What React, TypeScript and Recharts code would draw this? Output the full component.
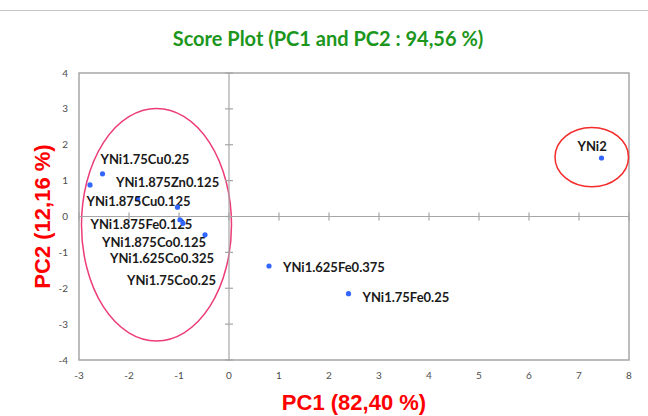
import React from 'react'
import {
  ScatterChart, Scatter, XAxis, YAxis, ReferenceLine, ReferenceArea,
  ReferenceDot,
} from 'recharts'

// sample names and PCA scores
const names = [
  'YNi1.75Cu0.25', 'YNi1.875Zn0.125', 'YNi1.875Cu0.125', 'YNi1.875Fe0.125',
  'YNi1.875Co0.125', 'YNi1.625Co0.325', 'YNi1.75Co0.25',
  'YNi1.625Fe0.375', 'YNi1.75Fe0.25', 'YNi2',
]
const pc1 = [-2.53, -2.78, -1.83, -1.03, -0.98, -0.92, -0.48, 0.8, 2.39, 7.45]
const pc2 = [1.19, 0.88, 0.49, 0.26, -0.09, -0.19, -0.51, -1.38, -2.15, 1.63]

const xTicks = [-3, -2, -1, 0, 1, 2, 3, 4, 5, 6, 7, 8]
const yTicks = [-4, -3, -2, -1, 0, 1, 2, 3, 4]

// hand-placed data labels (offset from the dot, px)
const labelOffset: Record<string, [number, number]> = {
  'YNi1.75Cu0.25': [-2, -15],
  'YNi1.875Zn0.125': [26, -3],
  'YNi1.875Cu0.125': [-51, 2],
  'YNi1.875Fe0.125': [-87, 17],
  'YNi1.875Co0.125': [-78, 22],
  'YNi1.625Co0.325': [-73, 35],
  'YNi1.75Co0.25': [-78, 45],
  'YNi1.625Fe0.375': [14, 1],
  'YNi1.75Fe0.25': [14, 3],
  'YNi2': [-24, -12],
}

const data = names.map((name, i) => ({ name, x: pc1[i], y: pc2[i] }))

const GRID = '#a6a6a6'
const TICK = { fill: '#4d4d4d', fontSize: 10, fontFamily: 'Lato' }

const PointShape = (p: any) => {
  const [dx, dy] = labelOffset[p.payload.name] || [8, 0]
  return (
    <g>
      <circle cx={p.cx} cy={p.cy} r={2.6} fill="#3366ff" />
      <text
        x={p.cx + dx}
        y={p.cy + dy}
        dominantBaseline="central"
        fontFamily="Lato"
        fontWeight="bold"
        fontSize={13}
        fill="#1a1a1a"
      >
        {p.payload.name}
      </text>
    </g>
  )
}

const ellipse = (color: string) => (p: any) => (
  <ellipse
    cx={p.x + p.width / 2}
    cy={p.y + p.height / 2}
    rx={Math.abs(p.width) / 2}
    ry={Math.abs(p.height) / 2}
    fill="none"
    stroke={color}
    strokeWidth={1.5}
  />
)

export default function App() {
  return (
    <div style={{ position: 'absolute', left: 0, top: 0, width: 648, height: 416, background: '#fff' }}>
      <div style={{ position: 'absolute', left: 0, right: 0, top: 10, borderTop: '1px solid #c4c4c4' }} />
      <div
        style={{
          position: 'absolute', left: 0, width: 656, top: 26, lineHeight: '24px', textAlign: 'center',
          color: '#1c961c', fontFamily: 'Lato', fontWeight: 'bold', fontSize: 20,
        }}
      >
        Score Plot (PC1 and PC2 : 94,56 %)
      </div>
      <ScatterChart width={648} height={416} margin={{ top: 73, right: 19, left: 49, bottom: 36 }}>
        <XAxis
          type="number"
          dataKey="x"
          domain={[-3, 8]}
          ticks={xTicks}
          interval={0}
          axisLine={false}
          tickLine={false}
          tickSize={0}
          tickMargin={12}
          height={20}
          tick={TICK}
          label={{
            content: ({ viewBox }: any) => (
              <text
                x={viewBox.x + viewBox.width / 2}
                y={viewBox.y + 50}
                textAnchor="middle"
                fill="#ff0000"
                fontFamily="Liberation Sans"
                fontWeight="bold"
                fontSize={22}
              >
                PC1 (82,40 %)
              </text>
            ),
          }}
        />
        <YAxis
          type="number"
          dataKey="y"
          domain={[-4, 4]}
          ticks={yTicks}
          interval={0}
          axisLine={false}
          tickLine={false}
          tickSize={0}
          tickMargin={11}
          width={30}
          tick={TICK}
          label={{
            content: ({ viewBox }: any) => {
              const cx = viewBox.x - 7
              const cy = viewBox.y + viewBox.height / 2
              return (
                <text
                  x={cx}
                  y={cy}
                  transform={`rotate(-90 ${cx} ${cy})`}
                  textAnchor="middle"
                  dominantBaseline="central"
                  fill="#ff0000"
                  fontFamily="Liberation Sans"
                  fontWeight="bold"
                  fontSize={22}
                >
                  PC2 (12,16 %)
                </text>
              )
            },
          }}
        />
        <ReferenceArea x1={-3} x2={8} y1={-4} y2={4} fill="none" stroke={GRID} strokeWidth={1.5} fillOpacity={0} />
        <ReferenceLine x={0} stroke={GRID} strokeWidth={1.2} />
        <ReferenceLine y={0} stroke={GRID} strokeWidth={1.2} />
        {xTicks.map((t) => (
          <ReferenceDot
            key={'xt' + t}
            x={t}
            y={0}
            shape={(p: any) => <line x1={p.cx} x2={p.cx} y1={p.cy - 4} y2={p.cy + 4} stroke={GRID} strokeWidth={1.2} />}
          />
        ))}
        {yTicks.map((t) => (
          <ReferenceDot
            key={'yt' + t}
            x={0}
            y={t}
            shape={(p: any) => <line x1={p.cx - 4} x2={p.cx + 4} y1={p.cy} y2={p.cy} stroke={GRID} strokeWidth={1.2} />}
          />
        ))}
        <ReferenceArea x1={-2.95} x2={0.05} y1={-3.47} y2={3.01} shape={ellipse('#ec3d7a')} />
        <ReferenceArea x1={6.52} x2={7.99} y1={0.83} y2={2.48} shape={ellipse('#f52a2a')} />
        <Scatter data={data} shape={PointShape} isAnimationActive={false} />
      </ScatterChart>
    </div>
  )
}
